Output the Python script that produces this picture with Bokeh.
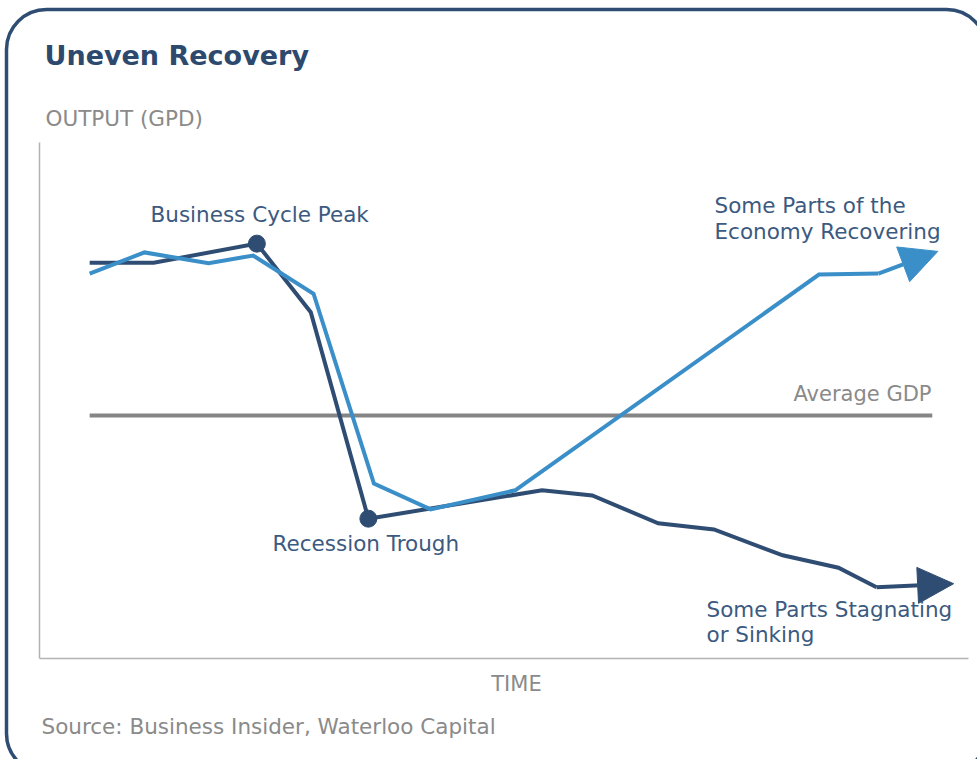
from bokeh.plotting import figure
from bokeh.models import Range1d, Label, BoxAnnotation, Arrow, NormalHead
from bokeh.embed import file_html
from bokeh.resources import INLINE

# ---- data (time units 0..100 on the axis, output units 0..100) ----
stag_x = [5.4, 12.3, 23.4, 29.2, 35.4, 54.1, 59.5, 66.6, 72.6, 80.0, 86.0, 90.1, 98.4]
stag_y = [76.7, 76.7, 80.4, 67.1, 27.1, 32.6, 31.6, 26.2, 25.0, 20.0, 17.6, 13.8, 14.5]
rec_x = [5.4, 11.3, 18.2, 23.0, 29.5, 36.0, 42.1, 51.2, 83.9, 90.3, 96.7]
rec_y = [74.6, 78.7, 76.6, 78.1, 70.7, 33.9, 28.9, 32.6, 74.4, 74.6, 78.9]
avg_x = [5.4, 96.1]
avg_y = [47.1, 47.1]
peak_idx = 2
trough_idx = 4

title_text = "Uneven Recovery"
y_label = "OUTPUT (GPD)"
x_label = "TIME"
source_text = "Source: Business Insider, Waterloo Capital"
peak_label = "Business Cycle Peak"
trough_label = "Recession Trough"
rec_label = ["Some Parts of the", "Economy Recovering"]
stag_label = ["Some Parts Stagnating", "or Sinking"]
avg_label = "Average GDP"

# ---- layout ----
W, H = 977, 759
PX_L, PX_R, PY_B, PY_T = 39, 968, 658, 142
sx = (PX_R - PX_L) / 100.0
sy = (PY_B - PY_T) / 100.0

def dx(px):
    return (px - PX_L) / sx

def dy(py):
    return (PY_B - py) / sy

DARK = "#2f4d73"
LIGHT = "#3b8fc9"
NAVY_TXT = "#3c5a80"
GRAY_TXT = "#8a8a8a"
FONT = "DejaVu Sans"

p = figure(width=W, height=H, output_backend="svg", toolbar_location=None,
           x_range=Range1d(dx(0), dx(W)), y_range=Range1d(dy(H), dy(0)),
           x_axis_type=None, y_axis_type=None, min_border=0, tools="")
p.grid.visible = False
p.outline_line_color = None
p.background_fill_color = "white"
p.border_fill_color = "white"

# rounded frame
p.add_layout(BoxAnnotation(left=dx(6), right=dx(986), top=dy(9), bottom=dy(773),
                           fill_alpha=0, line_color=DARK, line_alpha=1.0, line_width=3.5,
                           border_radius=40, level="underlay"))

# axes lines
p.segment(x0=[0, 0], y0=[0, 0], x1=[0, 100], y1=[100, 0], line_color="#b3b3b3", line_width=1.5)

# average line
p.line(avg_x, avg_y, line_color="#858585", line_width=4)

# series (last segment drawn by the arrow)
p.line(stag_x[:-1], stag_y[:-1], line_color=DARK, line_width=4, line_join="miter")
p.line(rec_x[:-1], rec_y[:-1], line_color=LIGHT, line_width=4, line_join="miter")

p.add_layout(Arrow(end=NormalHead(size=36, fill_color=DARK, line_color=DARK, line_width=1),
                   x_start=stag_x[-2], y_start=stag_y[-2], x_end=stag_x[-1], y_end=stag_y[-1],
                   line_color=DARK, line_width=4))
p.add_layout(Arrow(end=NormalHead(size=37, fill_color=LIGHT, line_color=LIGHT, line_width=1),
                   x_start=rec_x[-2], y_start=rec_y[-2], x_end=rec_x[-1], y_end=rec_y[-1],
                   line_color=LIGHT, line_width=4))

p.scatter([stag_x[peak_idx], stag_x[trough_idx]], [stag_y[peak_idx], stag_y[trough_idx]],
          size=17, fill_color=DARK, line_color=DARK)

SHIFT = 9

def lab(x, y, text, size, color, style="normal", align="left"):
    p.add_layout(Label(x=dx(x), y=dy(y - SHIFT), text=text, text_font=FONT, text_font_size=size,
                       text_color=color, text_font_style=style, text_align=align,
                       text_baseline="alphabetic"))

lab(44, 64, title_text, "27px", "#2d4a6e", "bold")
lab(45, 127, y_label, "21.5px", GRAY_TXT)
lab(516, 692, x_label, "21px", GRAY_TXT, align="center")
lab(41, 735, source_text, "21.5px", GRAY_TXT)
lab(150, 223, peak_label, "21.5px", NAVY_TXT)
lab(272, 552, trough_label, "21.5px", NAVY_TXT)
lab(714, 214, rec_label[0], "21.5px", NAVY_TXT)
lab(714, 240, rec_label[1], "21.5px", NAVY_TXT)
lab(706, 618, stag_label[0], "21.5px", NAVY_TXT)
lab(706, 643, stag_label[1], "21.5px", NAVY_TXT)
lab(931, 402, avg_label, "21px", GRAY_TXT, align="right")

open("out.html", "w").write(file_html(p, INLINE))
